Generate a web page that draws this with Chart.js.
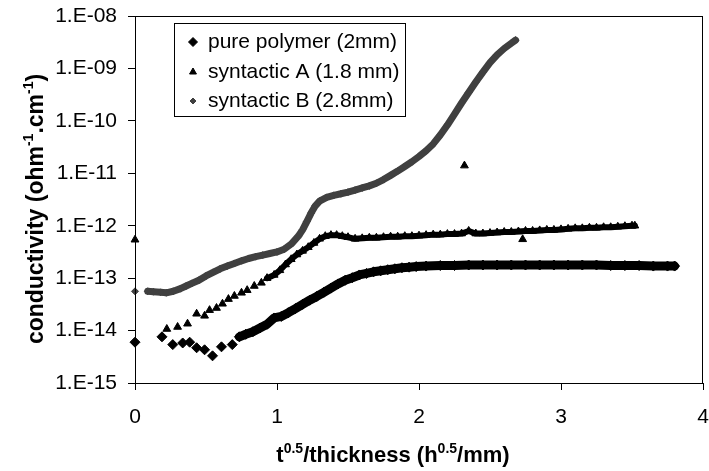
<!DOCTYPE html>
<html>
<head>
<meta charset="utf-8">
<script src="https://cdn.jsdelivr.net/npm/chart.js@4.4.1/dist/chart.umd.min.js"></script>
<style>
  html, body { margin: 0; padding: 0; background: #fff; }
  #wrap { width: 709px; height: 471px; }
</style>
</head>
<body>
<div id="wrap"><canvas id="c" width="709" height="471"></canvas></div>
<script>
// ---------- data ----------
const xTicks = [0, 1, 2, 3, 4];
const yTickValues = [1e-15, 1e-14, 1e-13, 1e-12, 1e-11, 1e-10, 1e-9, 1e-8];
const yTickLabels = ['1.E-15', '1.E-14', '1.E-13', '1.E-12', '1.E-11', '1.E-10', '1.E-09', '1.E-08'];

const seriesNames = ['pure polymer (2mm)', 'syntactic A (1.8 mm)', 'syntactic B (2.8mm)'];

// pure polymer (2mm)
const polyX = [0, 0.19, 0.266, 0.336, 0.385, 0.434, 0.49, 0.546, 0.609, 0.685, 0.735,
  0.78, 0.83, 0.88, 0.93, 0.98, 1.03, 1.08, 1.13, 1.18, 1.23, 1.28, 1.33, 1.38, 1.43, 1.48,
  1.53, 1.58, 1.63, 1.68, 1.73, 1.78, 1.83, 1.88, 1.93, 1.98, 2.05, 2.15, 2.25, 2.35, 2.45,
  2.55, 2.65, 2.75, 2.85, 2.95, 3.05, 3.15, 3.25, 3.35, 3.45, 3.55, 3.65, 3.75, 3.80];
const polyY = [6.0e-15, 7.6e-15, 5.4e-15, 5.8e-15, 6.0e-15, 4.7e-15, 4.3e-15, 3.3e-15, 4.9e-15, 5.4e-15, 7.6e-15,
  8.5e-15, 9.5e-15, 1.12e-14, 1.32e-14, 1.74e-14, 1.86e-14, 2.19e-14, 2.63e-14, 3.16e-14, 3.80e-14, 4.47e-14, 5.37e-14, 6.46e-14, 7.76e-14, 9.12e-14,
  1.02e-13, 1.15e-13, 1.23e-13, 1.32e-13, 1.38e-13, 1.45e-13, 1.51e-13, 1.58e-13, 1.62e-13, 1.66e-13, 1.70e-13, 1.74e-13, 1.74e-13, 1.78e-13, 1.78e-13,
  1.78e-13, 1.78e-13, 1.78e-13, 1.78e-13, 1.78e-13, 1.78e-13, 1.78e-13, 1.78e-13, 1.74e-13, 1.74e-13, 1.74e-13, 1.70e-13, 1.70e-13, 1.70e-13];

// syntactic A (1.8 mm)
const synAX = [0.224, 0.30, 0.37, 0.434, 0.49, 0.525, 0.574, 0.616, 0.658, 0.70, 0.75, 0.79, 0.84, 0.89,
  0.93, 0.98, 1.02, 1.06, 1.10, 1.14, 1.18, 1.22, 1.26, 1.30, 1.34, 1.38, 1.42, 1.46, 1.50, 1.55,
  1.60, 1.65, 1.70, 1.75, 1.80, 1.85, 1.90, 1.95, 2.00, 2.05, 2.10, 2.15, 2.20, 2.25, 2.30, 2.35,
  2.40, 2.45, 2.50, 2.55, 2.60, 2.65, 2.70, 2.75, 2.80, 2.85, 2.90, 2.95, 3.00, 3.05, 3.10, 3.15,
  3.20, 3.25, 3.30, 3.35, 3.40, 3.45, 3.50, 3.52];
const synAY = [1.07e-14, 1.17e-14, 1.35e-14, 2.09e-14, 1.91e-14, 2.45e-14, 2.69e-14, 3.24e-14, 3.98e-14, 4.57e-14, 5.25e-14, 5.89e-14, 7.08e-14, 8.13e-14,
  1.0e-13, 1.15e-13, 1.41e-13, 1.82e-13, 2.29e-13, 2.82e-13, 3.31e-13, 3.89e-13, 4.68e-13, 5.62e-13, 6.31e-13, 6.61e-13, 6.61e-13, 6.31e-13, 6.03e-13, 5.62e-13,
  5.75e-13, 5.89e-13, 5.89e-13, 6.03e-13, 6.17e-13, 6.17e-13, 6.31e-13, 6.31e-13, 6.46e-13, 6.61e-13, 6.76e-13, 6.76e-13, 6.92e-13, 6.92e-13, 7.08e-13, 7.94e-13,
  7.08e-13, 7.08e-13, 7.24e-13, 7.41e-13, 7.59e-13, 7.59e-13, 7.76e-13, 7.94e-13, 7.94e-13, 8.13e-13, 8.32e-13, 8.32e-13, 8.51e-13, 8.71e-13, 8.91e-13, 8.91e-13,
  9.12e-13, 9.12e-13, 9.33e-13, 9.33e-13, 9.55e-13, 9.77e-13, 1.0e-12, 1.0e-12];
// isolated syntactic A readings
const synAOutX = [0, 2.32, 2.73];
const synAOutY = [5.4e-13, 1.4e-11, 5.5e-13];

// syntactic B (2.8mm)
const synBX = [0, 0.09, 0.13, 0.18, 0.22, 0.27, 0.32, 0.36, 0.40, 0.45, 0.50, 0.55, 0.60, 0.65, 0.70,
  0.75, 0.80, 0.85, 0.90, 0.95, 1.00, 1.05, 1.10, 1.15, 1.18, 1.21, 1.24, 1.27, 1.30, 1.35,
  1.40, 1.45, 1.50, 1.55, 1.60, 1.65, 1.70, 1.75, 1.80, 1.85, 1.90, 1.95, 2.00, 2.05, 2.10,
  2.15, 2.20, 2.25, 2.30, 2.35, 2.40, 2.45, 2.50, 2.55, 2.60, 2.65, 2.68];
const synBY = [5.6e-14, 5.62e-14, 5.50e-14, 5.37e-14, 5.25e-14, 5.62e-14, 6.31e-14, 7.08e-14, 7.94e-14, 9.12e-14, 1.10e-13, 1.29e-13, 1.51e-13, 1.70e-13, 1.91e-13,
  2.14e-13, 2.37e-13, 2.57e-13, 2.75e-13, 2.95e-13, 3.16e-13, 3.55e-13, 4.47e-13, 6.31e-13, 8.32e-13, 1.20e-12, 1.74e-12, 2.40e-12, 2.95e-12, 3.47e-12,
  3.80e-12, 4.07e-12, 4.37e-12, 4.79e-12, 5.25e-12, 5.75e-12, 6.46e-12, 7.59e-12, 9.12e-12, 1.10e-11, 1.35e-11, 1.66e-11, 2.09e-11, 2.69e-11, 3.63e-11,
  5.37e-11, 8.32e-11, 1.35e-10, 2.19e-10, 3.47e-10, 5.50e-10, 8.51e-10, 1.29e-9, 1.82e-9, 2.40e-9, 3.02e-9, 3.47e-9];

// ---------- styling ----------
const FONT = '"Liberation Sans", Arial, sans-serif';
const BLACK = '#000000';
const GREY = '#404040';
const toPts = (xs, ys) => xs.map((x, i) => ({ x: x, y: ys[i] }));
const hideBefore = (limit, color) => ctx => (ctx.p0.parsed.x < limit ? 'rgba(0,0,0,0)' : color);

const frameAndTitles = {
  id: 'frameAndTitles',
  afterDraw(chart) {
    const ctx = chart.ctx;
    const a = chart.chartArea;
    ctx.save();
    // plot frame
    ctx.strokeStyle = BLACK;
    ctx.lineWidth = 1;
    ctx.strokeRect(Math.round(a.left) + 0.5, Math.round(a.top) + 0.5,
      Math.round(a.right - a.left) - 1, Math.round(a.bottom - a.top));

    // rich text helper with superscripts
    function rich(parts, size) {
      let w = 0;
      parts.forEach(p => {
        ctx.font = 'bold ' + (p.sup ? Math.round(size * 0.62) : size) + 'px ' + FONT;
        p.w = ctx.measureText(p.t).width;
        w += p.w;
      });
      return w;
    }
    function drawRich(parts, size, cx, baseY) {
      const w = rich(parts, size);
      let x = cx - w / 2;
      ctx.textBaseline = 'alphabetic';
      ctx.textAlign = 'left';
      ctx.fillStyle = BLACK;
      parts.forEach(p => {
        ctx.font = 'bold ' + (p.sup ? Math.round(size * 0.62) : size) + 'px ' + FONT;
        ctx.fillText(p.t, x, baseY - (p.sup ? size * 0.42 : 0));
        x += p.w;
      });
    }
    // x title
    drawRich([{ t: 't' }, { t: '0.5', sup: true }, { t: '/thickness (h' }, { t: '0.5', sup: true }, { t: '/mm)' }],
      22, 393, 462);
    // y title
    ctx.save();
    ctx.translate(43, 209);
    ctx.rotate(-Math.PI / 2);
    drawRich([{ t: 'conductivity (ohm' }, { t: '-1', sup: true }, { t: '.cm' }, { t: '-1', sup: true }, { t: ')' }],
      23, 0, 0);
    ctx.restore();

    // legend
    const lx = 174.5, ly = 23.5, lw = 231, lh = 93;
    ctx.fillStyle = '#ffffff';
    ctx.fillRect(lx, ly, lw, lh);
    ctx.strokeStyle = BLACK;
    ctx.lineWidth = 1;
    ctx.strokeRect(lx, ly, lw, lh);
    const rowsY = [42, 72, 101];
    const markers = [
      { pointStyle: 'rectRot', radius: 4.5, color: BLACK },
      { pointStyle: 'triangle', radius: 4, color: BLACK },
      { pointStyle: 'rectRot', radius: 3, color: GREY }
    ];
    ctx.font = '21px ' + FONT;
    ctx.textBaseline = 'middle';
    ctx.textAlign = 'left';
    seriesNames.forEach((name, i) => {
      const m = markers[i];
      ctx.fillStyle = m.color;
      ctx.strokeStyle = m.color;
      Chart.helpers.drawPoint(ctx, { pointStyle: m.pointStyle, radius: m.radius, rotation: 0, borderWidth: 1 }, 193, rowsY[i]);
      ctx.fillStyle = BLACK;
      ctx.font = '21px ' + FONT;
      ctx.fillText(name, 208, rowsY[i]);
    });
    ctx.restore();
  }
};

const chart = new Chart(document.getElementById('c'), {
  type: 'scatter',
  data: {
    datasets: [
      {
        label: seriesNames[0],
        data: toPts(polyX, polyY),
        showLine: true,
        borderColor: BLACK,
        borderWidth: 9,
        borderJoinStyle: 'round',
        borderCapStyle: 'round',
        segment: { borderColor: hideBefore(0.73, BLACK) },
        pointStyle: 'rectRot',
        pointRadius: 5,
        pointBackgroundColor: BLACK,
        pointBorderColor: BLACK,
        pointBorderWidth: 1,
        clip: false
      },
      {
        label: seriesNames[1],
        data: toPts(synAX, synAY),
        showLine: true,
        borderColor: BLACK,
        borderWidth: 6,
        borderJoinStyle: 'round',
        borderCapStyle: 'round',
        segment: { borderColor: hideBefore(0.92, BLACK) },
        pointStyle: 'triangle',
        pointRadius: 4.5,
        pointBackgroundColor: BLACK,
        pointBorderColor: BLACK,
        pointBorderWidth: 1,
        clip: false
      },
      {
        label: seriesNames[1] + ' ',
        data: toPts(synAOutX, synAOutY),
        showLine: false,
        pointStyle: 'triangle',
        pointRadius: 4.5,
        pointBackgroundColor: BLACK,
        pointBorderColor: BLACK,
        pointBorderWidth: 1,
        clip: false
      },
      {
        label: seriesNames[2],
        data: toPts(synBX, synBY),
        showLine: true,
        borderColor: GREY,
        borderWidth: 7,
        borderJoinStyle: 'round',
        borderCapStyle: 'round',
        segment: { borderColor: hideBefore(0.05, GREY) },
        pointStyle: 'rectRot',
        pointRadius: 3.5,
        pointBackgroundColor: GREY,
        pointBorderColor: GREY,
        pointBorderWidth: 1,
        clip: false
      }
    ]
  },
  options: {
    responsive: false,
    animation: false,
    devicePixelRatio: 1,
    layout: { padding: { top: 16, right: 3, left: 0, bottom: 0 } },
    plugins: { legend: { display: false }, tooltip: { enabled: false } },
    scales: {
      x: {
        type: 'linear',
        min: 0,
        max: 4,
        afterBuildTicks: axis => { axis.ticks = xTicks.map(v => ({ value: v })); },
        afterFit: scale => { scale.height = 88; scale.paddingLeft = 0; scale.paddingRight = 0; },
        ticks: {
          callback: v => String(v),
          color: BLACK,
          font: { family: FONT, size: 21 },
          padding: 15,
          maxRotation: 0
        },
        grid: { display: true, drawOnChartArea: false, drawTicks: true, tickLength: 7, color: BLACK },
        border: { display: true, color: BLACK, width: 1 },
        title: { display: false }
      },
      y: {
        type: 'logarithmic',
        min: 1e-15,
        max: 1e-8,
        afterBuildTicks: axis => { axis.ticks = yTickValues.map(v => ({ value: v })); },
        afterFit: scale => { scale.width = 135; scale.paddingTop = 0; scale.paddingBottom = 0; },
        ticks: {
          callback: (v, i) => yTickLabels[i],
          color: BLACK,
          font: { family: FONT, size: 21 },
          padding: 11,
          autoSkip: false
        },
        grid: { display: true, drawOnChartArea: false, drawTicks: true, tickLength: 7, color: BLACK },
        border: { display: true, color: BLACK, width: 1 },
        title: { display: false }
      }
    }
  },
  plugins: [frameAndTitles]
});
</script>
</body>
</html>
